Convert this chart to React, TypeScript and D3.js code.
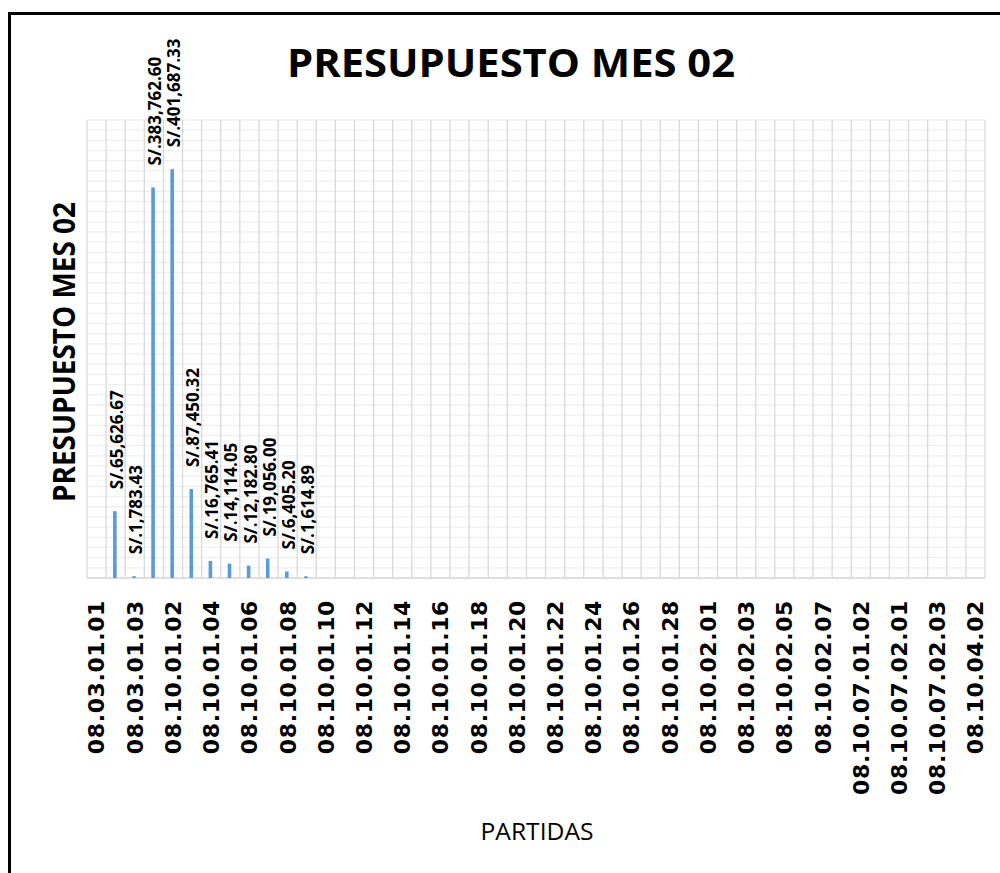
import React from "react";
import * as d3 from "d3";

const categories: string[] = [
  "08.03.01.01", "08.03.01.02", "08.03.01.03",
  "08.10.01.01", "08.10.01.02", "08.10.01.03", "08.10.01.04", "08.10.01.05",
  "08.10.01.06", "08.10.01.07", "08.10.01.08", "08.10.01.09", "08.10.01.10",
  "08.10.01.11", "08.10.01.12", "08.10.01.13", "08.10.01.14", "08.10.01.15",
  "08.10.01.16", "08.10.01.17", "08.10.01.18", "08.10.01.19", "08.10.01.20",
  "08.10.01.21", "08.10.01.22", "08.10.01.23", "08.10.01.24", "08.10.01.25",
  "08.10.01.26", "08.10.01.27", "08.10.01.28", "08.10.01.29",
  "08.10.02.01", "08.10.02.02", "08.10.02.03", "08.10.02.04", "08.10.02.05",
  "08.10.02.06", "08.10.02.07",
  "08.10.07.01.01", "08.10.07.01.02", "08.10.07.01.03",
  "08.10.07.02.01", "08.10.07.02.02", "08.10.07.02.03",
  "08.10.04.01", "08.10.04.02",
];

const values: (number | null)[] = [
  null, 65626.67, 1783.43, 383762.6, 401687.33, 87450.32, 16765.41, 14114.05,
  12182.8, 19056.0, 6405.2, 1614.89,
  null, null, null, null, null, null, null, null, null, null, null, null, null,
  null, null, null, null, null, null, null, null, null, null, null, null, null,
  null, null, null, null, null, null, null, null, null,
];

const yMax = 450000;
const yGridStep = 10000;

const title = "PRESUPUESTO MES 02";
const yTitle = "PRESUPUESTO MES 02";
const xTitle = "PARTIDAS";

const fmt = (v: number) => "S/." + d3.format(",.2f")(v);

export default function App() {
  const W = 1000, H = 873;
  const left = 87, right = 985, top = 120, bottom = 578;

  const x = d3.scaleBand<string>().domain(categories).range([left, right]).padding(0);
  const y = d3.scaleLinear().domain([0, yMax]).range([bottom, top]);
  const bw = x.bandwidth();
  const barW = 3.6;

  const hTicks = d3.range(0, yMax + 1, yGridStep);

  return (
    <svg width={W} height={H} style={{ position: "absolute", left: 0, top: 0, background: "#fff" }}>
      <rect x={0} y={0} width={W} height={H} fill="#fff" />
      {/* frame */}
      <rect x={9.5} y={13.5} width={1100} height={1000} fill="none" stroke="#000" strokeWidth={3} />

      {/* horizontal grid */}
      {hTicks.map((t) => (
        <line key={"h" + t} x1={left} x2={right} y1={y(t)} y2={y(t)} stroke="#efefef" strokeWidth={1.3} />
      ))}
      {/* vertical grid */}
      {categories.map((c) => (
        <line key={"v" + c} x1={x(c)!} x2={x(c)!} y1={top} y2={bottom} stroke="#d9d9d9" strokeWidth={1.3} />
      ))}
      <line x1={right} x2={right} y1={top} y2={bottom} stroke="#d9d9d9" strokeWidth={1.3} />
      {/* x axis line */}
      <line x1={left} x2={right} y1={bottom} y2={bottom} stroke="#d9d9d9" strokeWidth={1.5} />

      {/* bars */}
      {categories.map((c, i) => {
        const v = values[i];
        if (v == null) return null;
        const cx = x(c)! + bw / 2 - 0.8;
        return (
          <rect key={"b" + c} x={cx - barW / 2} y={y(v)} width={barW} height={bottom - y(v)} fill="#5b9bd5" />
        );
      })}

      {/* data labels */}
      {categories.map((c, i) => {
        const v = values[i];
        if (v == null) return null;
        const cx = x(c)! + bw / 2 + 1;
        const ly = y(v) - 22;
        return (
          <text
            key={"l" + c}
            transform={`translate(${cx},${ly}) rotate(-90)`}
            dy="0.36em"
            fontFamily="'Open Sans', sans-serif"
            fontWeight={700}
            fontSize={17}
            fill="#000"
          >
            {fmt(v)}
          </text>
        );
      })}

      {/* x tick labels */}
      {categories.map((c, i) => {
        if (i % 2 !== 0) return null;
        const cx = x(c)! + bw / 2;
        return (
          <text
            key={"t" + c}
            transform={`translate(${cx},600) rotate(-90)`}
            dy="0.36em"
            textAnchor="end"
            fontFamily="'DejaVu Sans', sans-serif"
            fontWeight={700}
            fontSize={22}
            letterSpacing={0.6}
            fill="#000"
          >
            {c}
          </text>
        );
      })}

      {/* title */}
      <text
        x={511}
        y={77}
        textAnchor="middle"
        fontFamily="'Open Sans', sans-serif"
        fontWeight={700}
        fontSize={40}
        textLength={448}
        lengthAdjust="spacingAndGlyphs"
        fill="#000"
      >
        {title}
      </text>

      {/* y title */}
      <text
        transform={`translate(75,352) rotate(-90)`}
        textAnchor="middle"
        fontFamily="'Open Sans', sans-serif"
        fontWeight={700}
        fontSize={30}
        textLength={300}
        lengthAdjust="spacingAndGlyphs"
        fill="#000"
      >
        {yTitle}
      </text>

      {/* x title */}
      <text
        x={537}
        y={840}
        textAnchor="middle"
        fontFamily="'Open Sans', sans-serif"
        fontSize={24}
        textLength={113}
        lengthAdjust="spacingAndGlyphs"
        fill="#000"
      >
        {xTitle}
      </text>
    </svg>
  );
}
